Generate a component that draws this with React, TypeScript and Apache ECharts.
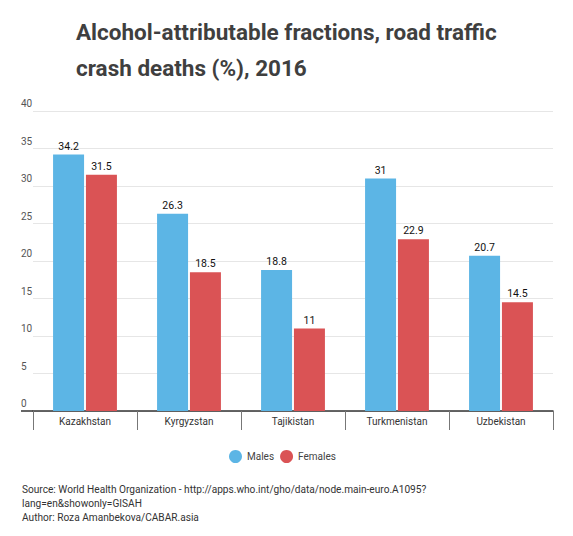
import React, { useEffect, useRef } from "react";
import * as echarts from "echarts";

const categories = ["Kazakhstan", "Kyrgyzstan", "Tajikistan", "Turkmenistan", "Uzbekistan"];
const males = [34.2, 26.3, 18.8, 31, 20.7];
const females = [31.5, 18.5, 11, 22.9, 14.5];
const yMin = 0;
const yMax = 40;
const yStep = 5;
const titleText = "Alcohol-attributable fractions, road traffic\ncrash deaths (%), 2016";
const sourceLines = [
  "Source: World Health Organization - http://apps.who.int/gho/data/node.main-euro.A1095?",
  "lang=en&showonly=GISAH",
  "Author: Roza Amanbekova/CABAR.asia",
];

const FONT = "Roboto, 'Noto Sans', sans-serif";

export default function App() {
  const ref = useRef<HTMLDivElement>(null);
  useEffect(() => {
    if (!ref.current) return;
    const chart = echarts.init(ref.current, undefined, { renderer: "svg" });
    const valueLabel = {
      show: true,
      position: "top" as const,
      distance: 3,
      color: "#111",
      fontSize: 10.5,
      fontWeight: "normal" as any,
      fontFamily: FONT,
    };
    chart.setOption({
      animation: false,
      backgroundColor: "#ffffff",
      textStyle: { fontFamily: FONT },
      title: {
        text: titleText,
        left: 76,
        top: 14,
        padding: 0,
        textStyle: {
          fontFamily: FONT,
          fontSize: 22.5,
          fontWeight: "bold",
          color: "#3f3f3f",
          lineHeight: 36,
        },
      },
      legend: {
        left: 229,
        top: 450,
        padding: 0,
        itemWidth: 13,
        itemHeight: 13,
        itemGap: 6,
        icon: "circle",
        textStyle: { fontFamily: FONT, fontSize: 10, color: "#444" },
        data: ["Males", "Females"],
      },
      grid: { left: 33, right: 20, top: 111, bottom: 125, containLabel: false },
      xAxis: {
        type: "category",
        data: categories,
        axisLine: { show: true, lineStyle: { color: "#333", width: 1.5 } },
        axisTick: { show: true, length: 19, interval: 0, lineStyle: { color: "#777", width: 1 } },
        axisLabel: { margin: 5, fontSize: 10, color: "#333", fontFamily: FONT, interval: 0 },
      },
      yAxis: {
        type: "value",
        min: yMin,
        max: yMax,
        interval: yStep,
        axisLine: { show: false },
        axisTick: { show: false },
        splitLine: { lineStyle: { color: "#e6e6e6", width: 1 } },
        axisLabel: {
          align: "left",
          verticalAlign: "bottom",
          margin: 12,
          fontSize: 10,
          lineHeight: 13,
          padding: [0, 0, 1, 0],
          color: "#555",
          fontFamily: FONT,
        },
      },
      series: [
        {
          name: "Males",
          type: "bar",
          data: males,
          barWidth: 31,
          barGap: "6%",
          itemStyle: { color: "#5cb5e5" },
          label: valueLabel,
        },
        {
          name: "Females",
          type: "bar",
          data: females,
          barWidth: 31,
          itemStyle: { color: "#da5355" },
          label: valueLabel,
        },
      ],
      graphic: [
        {
          type: "line",
          shape: { x1: 21, y1: 411, x2: 33, y2: 411 },
          style: { stroke: "#333", lineWidth: 1.5 },
        },
        ...sourceLines.map((t, i) => ({
          type: "text",
          left: 22,
          top: 484 + i * 14,
          style: {
            text: t,
            fontSize: 10.15,
            fontFamily: FONT,
            fill: "#333",
          },
        })),
      ],
    });
    return () => chart.dispose();
  }, []);
  return (
    <div
      ref={ref}
      style={{ position: "fixed", left: 0, top: 0, width: 573, height: 536, background: "#fff" }}
    />
  );
}
